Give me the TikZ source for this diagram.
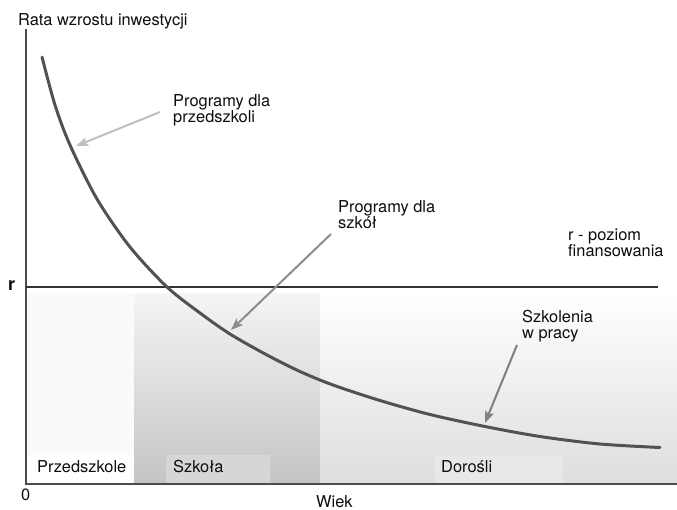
\documentclass[tikz,border=0pt]{standalone}
\usepackage{fontspec}
\setmainfont{TeX Gyre Heros}
\usetikzlibrary{arrows.meta}
\begin{document}
\begin{tikzpicture}[x=1pt,y=-1pt,
  lbl/.style={anchor=base west, inner sep=0pt, align=left, text=black!95,
    font=\fontsize{16.4}{16.8}\selectfont},
  axisline/.style={draw=black!70, line width=1.6pt},
  rline/.style={draw=black!80, line width=1.5pt},
  curveline/.style={draw=black!68, line width=3pt, line cap=round},
  pointer/.style={line width=2pt, -{Stealth[length=12pt,width=9pt,inset=2.5pt]}},
]
\useasboundingbox (0,0) rectangle (677,509);

% --- age regions ---
\fill[black!2] (26,293) rectangle (134,484);
\fill[white] (26,455) rectangle (134,484);
\shade[top color=black!4, middle color=black!9, bottom color=black!23] (134,293) rectangle (320,484);
\fill[black!16] (166,455) rectangle (270,484);
\shade[top color=white, bottom color=black!13] (320,293) rectangle (677,484);
\fill[black!9] (435,455) rectangle (563,484);

% --- axes ---
\coordinate (ytop) at (26,29);
\coordinate (O) at (26,484);
\coordinate (xend) at (677,484);
\draw[axisline] (ytop) -- (O) -- (xend);

% --- r level ---
\coordinate (rL) at (26,287);
\coordinate (rR) at (658,287);
\draw[rline] (rL) -- (rR);

% --- investment curve ---
\draw[curveline] plot[smooth, tension=0.5] coordinates {
  (42,57) (55,105) (70,145) (97,199) (130,247) (167,287) (200,313)
  (230,334) (267,355) (300,371.5) (333,385) (380,400.5) (430,414.5)
  (485,426.5) (540,436.5) (600,444) (660,447.5)};

% --- labels ---
\node[lbl] (title) at (18,25) {Rata wzrostu inwestycji};
\node[lbl] (pre) at (173,122.8) {Programy dla\\przedszkoli};
\node[lbl] (sch) at (338,228.8) {Programy dla\\szkół};
\node[lbl] (rlab) at (568,256.8) {r - poziom\\finansowania};
\node[lbl] (job) at (522,338.8) {Szkolenia\\w pracy};
\node[lbl, font=\fontsize{18}{18}\bfseries] (r) at (8,290) {r};
\node[lbl] (zero) at (21,500) {0};
\node[lbl] (wiek) at (316,507) {Wiek};
\node[lbl] (przed) at (37,472) {Przedszkole};
\node[lbl] (szk) at (173,472) {Szkoła};
\node[lbl] (dor) at (441,472) {Dorośli};

% --- pointers ---
\coordinate (a1s) at (160,112);
\coordinate (a1e) at (76,146);
\coordinate (a2s) at (331,234);
\coordinate (a2e) at (231,330);
\coordinate (a3s) at (517,345);
\coordinate (a3e) at (485,423);
\draw[pointer, draw=black!25, fill=black!25] (a1s) -- (a1e);
\draw[pointer, draw=black!45, fill=black!45] (a2s) -- (a2e);
\draw[pointer, draw=black!50, fill=black!50] (a3s) -- (a3e);
\end{tikzpicture}
\end{document}
